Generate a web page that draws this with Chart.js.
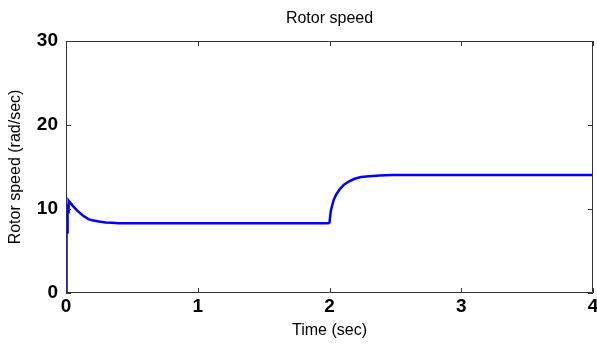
<!DOCTYPE html>
<html>
<head>
<meta charset="utf-8">
<script src="https://cdn.jsdelivr.net/npm/chart.js@4.4.1/dist/chart.umd.min.js"></script>
<style>
  html, body { margin: 0; padding: 0; background: #fff; }
  #wrap { width: 597px; height: 347px; position: relative; }
</style>
</head>
<body>
<div id="wrap"><canvas id="chart"></canvas></div>
<script>
// Rotor speed
const timeSec = [0, 0.004, 0.008, 0.012, 0.016, 0.02, 0.025, 0.03, 0.05, 0.08, 0.1, 0.13, 0.17, 0.2, 0.25, 0.3, 0.35, 0.4, 0.5, 0.7, 1.0, 1.5, 1.99,
  2.0, 2.01, 2.03, 2.05, 2.08, 2.11, 2.15, 2.19, 2.24, 2.3, 2.38, 2.47, 2.6, 3.0, 3.5, 4.0];
const speed = [0, 10.3, 7.2, 10.6, 9.6, 11.0, 10.9, 10.8, 10.4, 9.9, 9.6, 9.2, 8.8, 8.65, 8.5, 8.4, 8.35, 8.3, 8.3, 8.3, 8.3, 8.3, 8.3,
  8.4, 9.8, 11.0, 11.7, 12.4, 12.9, 13.3, 13.6, 13.8, 13.9, 14.0, 14.05, 14.05, 14.05, 14.05, 14.05];
const xTicks = [0, 1, 2, 3, 4];
const yTicks = [0, 10, 20, 30];

const points = timeSec.map((t, i) => ({ x: t, y: speed[i] }));

// matlab style box with inward tick marks
const boxPlugin = {
  id: 'box',
  afterDraw(chart) {
    const { ctx, chartArea: a, scales: { x, y } } = chart;
    ctx.save();
    ctx.strokeStyle = '#333';
    ctx.lineWidth = 1;
    ctx.beginPath();
    ctx.rect(a.left + 0.5, a.top + 0.5, a.right - a.left - 1, a.bottom - a.top - 1);
    xTicks.forEach(v => {
      const px = Math.round(x.getPixelForValue(v)) + 0.5;
      ctx.moveTo(px, a.top); ctx.lineTo(px, a.top + 5);
      ctx.moveTo(px, a.bottom); ctx.lineTo(px, a.bottom - 5);
    });
    yTicks.forEach(v => {
      const py = Math.round(y.getPixelForValue(v)) + 0.5;
      ctx.moveTo(a.left, py); ctx.lineTo(a.left + 5, py);
      ctx.moveTo(a.right, py); ctx.lineTo(a.right - 5, py);
    });
    ctx.stroke();
    ctx.restore();
  }
};

const labelFont = { family: 'Liberation Sans', size: 16, weight: 'normal' };
const tickFont = { family: 'Liberation Sans', size: 19, weight: 'bold' };

new Chart(document.getElementById('chart'), {
  type: 'line',
  data: {
    datasets: [{
      data: points,
      borderColor: '#0000ff',
      borderWidth: 2.5,
      pointRadius: 0,
      tension: 0,
      fill: false
    }]
  },
  options: {
    responsive: true,
    maintainAspectRatio: false,
    animation: false,
    layout: { padding: 0 },
    plugins: {
      legend: { display: false },
      tooltip: { enabled: false },
      title: { display: false }
    },
    scales: {
      x: {
        type: 'linear',
        min: 0, max: 4,
        grid: { display: false, drawTicks: false },
        border: { display: false },
        afterBuildTicks: s => { s.ticks = xTicks.map(v => ({ value: v })); },
        afterFit: s => { s.height = 54; s.paddingRight = 4; s.paddingLeft = 0; },
        ticks: { color: '#000', padding: 2, maxRotation: 0, font: tickFont },
        title: {
          display: true,
          text: 'Time (sec)',
          color: '#000',
          font: labelFont,
          padding: { top: 0, bottom: 7 }
        }
      },
      // top axis only carries the plot title, centred over the axes
      xTop: {
        type: 'linear',
        position: 'top',
        min: 0, max: 4,
        grid: { display: false, drawTicks: false },
        border: { display: false },
        ticks: { display: false },
        afterFit: s => { s.height = 41; },
        title: {
          display: true,
          text: 'Rotor speed',
          color: '#000',
          font: { family: 'Liberation Sans', size: 16, weight: 'normal' },
          padding: { top: 9, bottom: 0 }
        }
      },
      y: {
        min: 0, max: 30,
        grid: { display: false, drawTicks: false },
        border: { display: false },
        afterBuildTicks: s => { s.ticks = yTicks.map(v => ({ value: v })); },
        afterFit: s => { s.width = 66; },
        ticks: { color: '#000', padding: 8, font: tickFont },
        title: {
          display: true,
          text: 'Rotor speed (rad/sec)',
          color: '#000',
          font: labelFont,
          padding: { top: 6, bottom: 0 }
        }
      }
    }
  },
  plugins: [boxPlugin]
});
</script>
</body>
</html>
